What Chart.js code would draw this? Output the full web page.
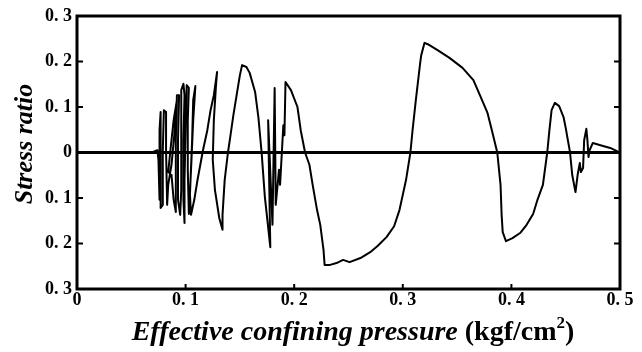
<!DOCTYPE html>
<html><head><meta charset="utf-8">
<script src="https://cdn.jsdelivr.net/npm/chart.js@4/dist/chart.umd.min.js"></script>
<style>html,body{margin:0;padding:0;background:#fff}#wrap{width:642px;height:352px;position:relative}</style>
</head><body><div id="wrap"><canvas id="c"></canvas></div>
<script>
// Effective confining pressure (kgf/cm2), path traced from right end to left end
const pressure = [0.500,0.491,0.482,0.475,0.472,0.471,0.470,0.469,0.467,0.466,0.464,0.463,0.461,0.459,0.456,0.454,0.450,0.448,0.444,0.440,0.437,0.435,0.433,0.429,0.424,0.420,0.414,0.408,0.401,0.395,0.392,0.391,0.390,0.387,0.382,0.378,0.371,0.365,0.355,0.343,0.332,0.323,0.320,0.317,0.316,0.312,0.309,0.307,0.303,0.297,0.292,0.285,0.277,0.270,0.261,0.251,0.245,0.239,0.233,0.228,0.227,0.224,0.221,0.217,0.214,0.210,0.206,0.203,0.197,0.192,0.191,0.190,0.187,0.186,0.183,0.182,0.180,0.176,0.178,0.173,0.170,0.167,0.164,0.159,0.156,0.152,0.150,0.147,0.144,0.141,0.139,0.136,0.134,0.134,0.131,0.127,0.125,0.126,0.128,0.129,0.126,0.123,0.120,0.116,0.111,0.108,0.105,0.104,0.106,0.107,0.109,0.107,0.105,0.103,0.102,0.102,0.103,0.101,0.100,0.099,0.099,0.098,0.098,0.099,0.098,0.096,0.096,0.096,0.095,0.093,0.093,0.094,0.092,0.091,0.091,0.091,0.089,0.087,0.084,0.086,0.089,0.092,0.090,0.087,0.084,0.083,0.082,0.082,0.080,0.079,0.079,0.077,0.077,0.077,0.076,0.076,0.076,0.075,0.074,0.070];
const stressRatio = [0.000,0.010,0.016,0.021,0.005,-0.010,0.027,0.052,0.027,-0.034,-0.043,-0.023,-0.049,-0.087,-0.049,0.000,0.054,0.078,0.102,0.109,0.093,0.049,0.000,-0.071,-0.104,-0.135,-0.159,-0.177,-0.188,-0.195,-0.175,-0.137,-0.071,0.000,0.049,0.087,0.126,0.159,0.186,0.208,0.225,0.238,0.241,0.214,0.197,0.115,0.049,0.000,-0.060,-0.126,-0.162,-0.186,-0.205,-0.219,-0.232,-0.241,-0.236,-0.243,-0.247,-0.247,-0.214,-0.159,-0.126,-0.071,-0.027,0.000,0.049,0.100,0.137,0.155,0.038,0.060,-0.071,-0.038,-0.115,0.142,-0.159,0.071,-0.208,-0.098,0.000,0.078,0.133,0.175,0.188,0.192,0.170,0.126,0.082,0.032,0.000,-0.060,-0.137,-0.170,-0.144,-0.082,-0.016,0.071,0.148,0.177,0.126,0.093,0.049,0.005,-0.060,-0.104,-0.137,-0.093,0.027,0.115,0.146,0.071,-0.038,-0.135,-0.038,0.071,0.142,0.148,0.049,-0.060,-0.155,-0.104,0.027,0.126,0.151,0.137,0.027,-0.082,-0.137,-0.104,0.027,0.126,0.126,0.027,-0.082,-0.131,-0.104,-0.049,-0.043,0.005,0.071,0.115,0.049,-0.027,-0.071,-0.115,0.005,0.089,0.093,0.005,-0.115,-0.122,0.005,0.089,0.049,-0.082,-0.104,-0.016,0.005,0.001];
const xTickValues = [0, 0.1, 0.2, 0.3, 0.4, 0.5];
const yTickValues = [-0.3, -0.2, -0.1, 0, 0.1, 0.2, 0.3];
const yTitle = 'Stress ratio';
const xTitleMain = 'Effective confining pressure ';
const xTitleUnit = '(kgf/cm';
const xTitleSup = '2';
const xTitleEnd = ')';

const fmt = v => { const a = Math.abs(v); return a < 1e-9 ? '0' : a.toFixed(1).replace('.', '. '); };
const serif = "'Liberation Serif', 'Times New Roman', serif";

const decor = {
  id: 'decor',
  afterDraw(chart) {
    const {ctx, chartArea: a, scales: {x, y}} = chart;
    ctx.save();
    ctx.strokeStyle = '#000';
    ctx.lineWidth = 3;
    ctx.strokeRect(a.left, a.top, a.right - a.left, a.bottom - a.top);
    ctx.lineWidth = 2;
    ctx.beginPath();
    yTickValues.slice(1, -1).forEach(v => {
      const py = y.getPixelForValue(v);
      ctx.moveTo(a.left, py); ctx.lineTo(a.left + 6, py);
      ctx.moveTo(a.right, py); ctx.lineTo(a.right - 6, py);
    });
    xTickValues.slice(1, -1).forEach(v => {
      const px = x.getPixelForValue(v);
      ctx.moveTo(px, a.bottom); ctx.lineTo(px, a.bottom - 5);
    });
    ctx.stroke();
    // y title
    ctx.fillStyle = '#000';
    ctx.font = "italic bold 26px " + serif;
    ctx.textAlign = 'center';
    ctx.textBaseline = 'middle';
    ctx.save();
    ctx.translate(25, 144);
    ctx.rotate(-Math.PI / 2);
    ctx.fillText(yTitle, 0, 0);
    ctx.restore();
    // x title with mixed styles
    const fMain = "italic bold 28px " + serif;
    const fUnit = "bold 28px " + serif;
    const fSup = "bold 17px " + serif;
    ctx.textAlign = 'left';
    ctx.textBaseline = 'alphabetic';
    ctx.font = fMain; const w1 = ctx.measureText(xTitleMain).width;
    ctx.font = fUnit; const w2 = ctx.measureText(xTitleUnit).width; const w4 = ctx.measureText(xTitleEnd).width;
    ctx.font = fSup; const w3 = ctx.measureText(xTitleSup).width;
    const total = w1 + w2 + w3 + w4;
    let sx = 353 - total / 2;
    const base = 340;
    ctx.font = fMain; ctx.fillText(xTitleMain, sx, base); sx += w1;
    ctx.font = fUnit; ctx.fillText(xTitleUnit, sx, base); sx += w2;
    ctx.font = fSup; ctx.fillText(xTitleSup, sx, base - 12); sx += w3;
    ctx.font = fUnit; ctx.fillText(xTitleEnd, sx, base);
    ctx.restore();
  }
};

new Chart(document.getElementById('c'), {
  type: 'scatter',
  data: {
    datasets: [{
      data: pressure.map((p, i) => ({x: p, y: stressRatio[i]})),
      showLine: true,
      pointRadius: 0,
      borderColor: '#000',
      borderWidth: 2,
      tension: 0,
      borderJoinStyle: 'round'
    }]
  },
  options: {
    responsive: true,
    maintainAspectRatio: false,
    animation: false,
    devicePixelRatio: 1,
    layout: {padding: {left: 0, right: 22, top: 16, bottom: 0}},
    plugins: {legend: {display: false}, tooltip: {enabled: false}},
    scales: {
      x: {
        type: 'linear', min: 0, max: 0.5,
        afterBuildTicks: s => { s.ticks = xTickValues.map(v => ({value: v})); },
        afterFit: s => { s.height = 63; },
        border: {display: false},
        grid: {display: false, drawTicks: false},
        ticks: {callback: fmt, padding: 1, color: '#000', maxRotation: 0, autoSkip: false,
                font: {family: serif, weight: 'bold', size: 18}}
      },
      y: {
        min: -0.3, max: 0.3,
        afterBuildTicks: s => { s.ticks = yTickValues.map(v => ({value: v})); },
        afterFit: s => { s.width = 77; },
        border: {display: false},
        grid: {drawTicks: false, lineWidth: 3,
               color: c => Math.abs(c.tick.value) < 1e-9 ? '#000' : 'rgba(0,0,0,0)'},
        ticks: {callback: fmt, padding: 5, color: '#000', autoSkip: false,
                font: {family: serif, weight: 'bold', size: 18}}
      }
    }
  },
  plugins: [decor]
});
</script>
</body></html>
